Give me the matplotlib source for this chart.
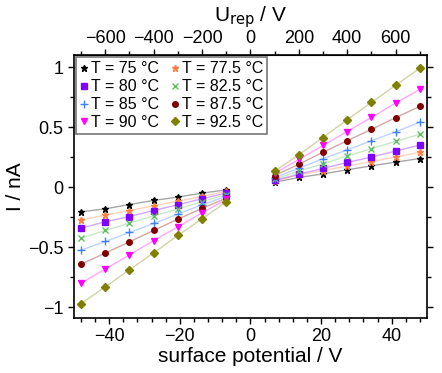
import matplotlib
matplotlib.use("Agg")
import matplotlib.pyplot as plt
from matplotlib.ticker import MultipleLocator, AutoMinorLocator

plt.rcParams['font.family'] = ['Liberation Sans', 'DejaVu Sans']

# repeller voltage (V) and conversion factor to surface potential
u_left = [-700, -600, -500, -400, -300, -200, -100]
u_right = [100, 200, 300, 400, 500, 600, 700]
u_per_v = 14.6

temps = ["75", "77.5", "80", "82.5", "85", "87.5", "90", "92.5"]

i_left = {
    "75":   [-0.206, -0.181, -0.145, -0.111, -0.083, -0.050, -0.023],
    "77.5": [-0.273, -0.234, -0.195, -0.156, -0.117, -0.078, -0.036],
    "80":   [-0.342, -0.289, -0.245, -0.195, -0.147, -0.097, -0.050],
    "82.5": [-0.425, -0.361, -0.300, -0.239, -0.183, -0.120, -0.064],
    "85":   [-0.525, -0.453, -0.378, -0.303, -0.225, -0.147, -0.078],
    "87.5": [-0.642, -0.550, -0.456, -0.361, -0.267, -0.178, -0.092],
    "90":   [-0.800, -0.683, -0.564, -0.445, -0.331, -0.214, -0.103],
    "92.5": [-0.970, -0.831, -0.689, -0.548, -0.403, -0.264, -0.125],
}
i_right = {
    "75":   [0.040, 0.080, 0.110, 0.144, 0.177, 0.208, 0.238],
    "77.5": [0.050, 0.100, 0.138, 0.175, 0.213, 0.250, 0.290],
    "80":   [0.055, 0.108, 0.155, 0.205, 0.250, 0.300, 0.350],
    "82.5": [0.065, 0.133, 0.194, 0.258, 0.320, 0.380, 0.440],
    "85":   [0.078, 0.158, 0.236, 0.310, 0.386, 0.460, 0.540],
    "87.5": [0.096, 0.190, 0.290, 0.386, 0.480, 0.578, 0.672],
    "90":   [0.115, 0.230, 0.347, 0.463, 0.580, 0.700, 0.813],
    "92.5": [0.133, 0.269, 0.413, 0.561, 0.705, 0.847, 0.990],
}
top_ticks = [-600, -400, -200, 0, 200, 400, 600]

colors = ["#000000", "#ff8040", "#8000ff", "#60c060", "#4080ff", "#800000", "#ff00ff", "#808000"]
markers = ["*", "*", "s", "x", "+", "o", "v", "D"]
msizes = [4.5, 4.5, 4, 4, 5.5, 4, 5, 3.6]

fig = plt.figure(figsize=(4.42, 3.73), dpi=100)
ax = fig.add_axes([0.167, 0.1475, 0.799, 0.705])

xl = [u / u_per_v for u in u_left]
xr = [u / u_per_v for u in u_right]

handles = {}
for k, t in enumerate(temps):
    c = colors[k]
    # connecting lines, lighter
    ax.plot(xl, i_left[t], '-', color=c, alpha=0.35, lw=1)
    ax.plot(xr, i_right[t], '-', color=c, alpha=0.35, lw=1)
    h, = ax.plot(xl, i_left[t], linestyle='none', marker=markers[k], ms=msizes[k],
                 color=c, mec=c, mew=1, label="T = " + t + " °C")
    ax.plot(xr, i_right[t], linestyle='none', marker=markers[k], ms=msizes[k],
            color=c, mec=c, mew=1)
    handles[t] = h

ax.set_xlim(-50, 50)
ax.set_ylim(-1.09, 1.1)
ax.xaxis.set_major_locator(MultipleLocator(20))
ax.xaxis.set_minor_locator(AutoMinorLocator(5))
ax.yaxis.set_minor_locator(MultipleLocator(0.25))
ax.tick_params(axis='both', which='both', direction='out', labelsize=13, right=True)
ax.tick_params(which='major', length=4, width=1)
ax.tick_params(which='minor', length=3, width=1)
for s in ax.spines.values():
    s.set_linewidth(1.2)

ax.set_xlabel("surface potential / V", fontsize=15, labelpad=1)
ax.set_ylabel("I / nA", fontsize=15, labelpad=2)
ax.set_yticks([-1, -0.5, 0, 0.5, 1])
ax.set_yticklabels(["\u22121", "\u22120.5", "0", "0.5", "1"])

top = ax.secondary_xaxis('top', functions=(lambda x: x * u_per_v, lambda u: u / u_per_v))
top.set_xticks(top_ticks)
top.set_xticklabels([str(v).replace("-", "\u2212") for v in top_ticks])
top.set_xticks([v + 100 for v in top_ticks] + [-700], minor=True)
top.tick_params(which='both', direction='out', labelsize=13, pad=2)
top.tick_params(which='major', length=4, width=1)
top.tick_params(which='minor', length=3, width=1)
top.set_xlabel("U$_{\\mathrm{rep}}$ / V", fontsize=15, labelpad=6)

# row-wise order like the original: 75 | 77.5, 80 | 82.5, ...
order = ["75", "80", "85", "90", "77.5", "82.5", "87.5", "92.5"]
leg = ax.legend([handles[t] for t in order], [handles[t].get_label() for t in order],
                loc='upper left', ncol=2, fontsize=11.5, frameon=True, fancybox=False,
                edgecolor='#555555', handlelength=0.5, handletextpad=0.15,
                columnspacing=0.8, labelspacing=0.18, borderpad=0.25,
                borderaxespad=0.15)
leg.get_frame().set_linewidth(1.2)

fig.savefig("out.png", dpi=100)
